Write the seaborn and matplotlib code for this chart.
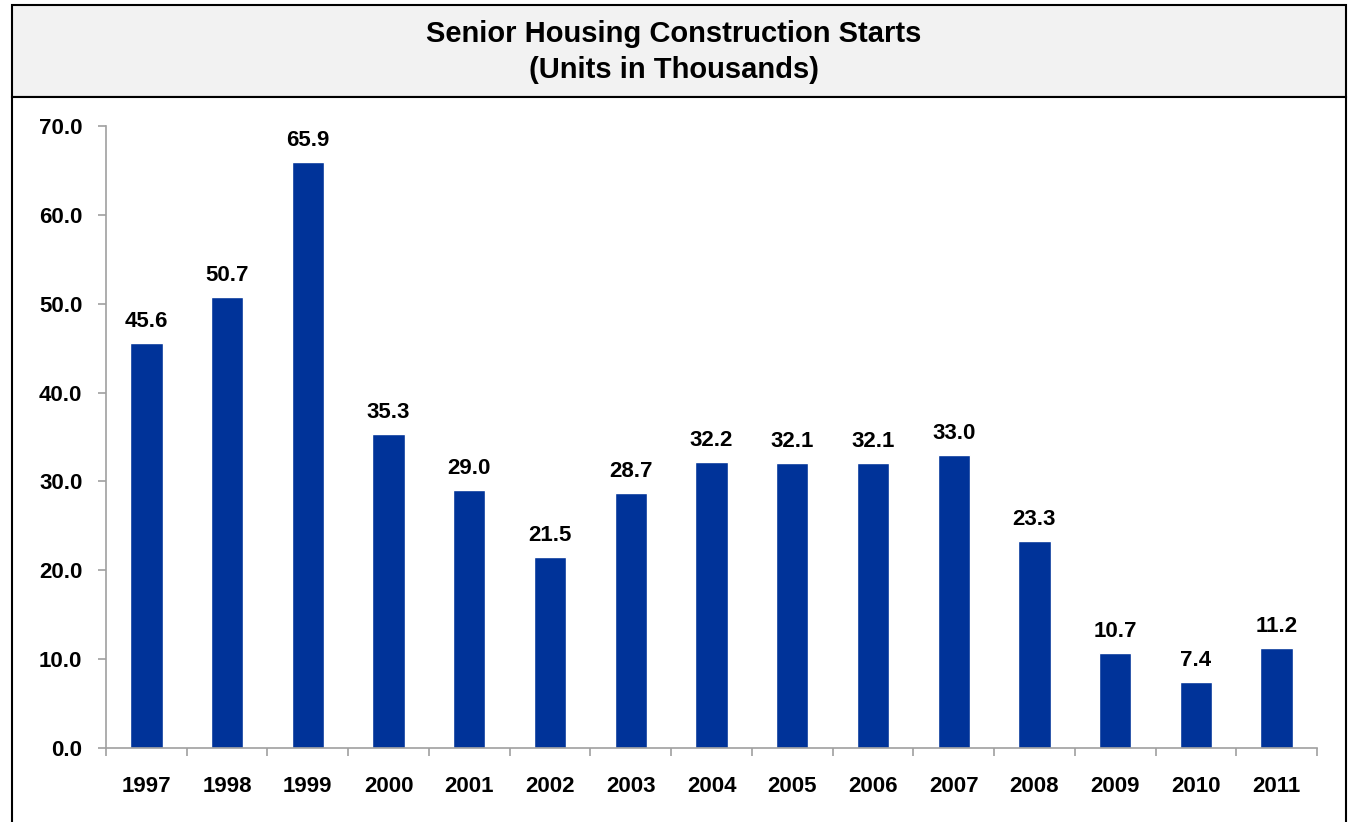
import numpy as np
import pandas as pd
import matplotlib
matplotlib.use("Agg")
import matplotlib.pyplot as plt
import seaborn as sns
from matplotlib.patches import Rectangle

# data
years = ['1997', '1998', '1999', '2000', '2001', '2002', '2003', '2004',
         '2005', '2006', '2007', '2008', '2009', '2010', '2011']
starts = [45.6, 50.7, 65.9, 35.3, 29.0, 21.5, 28.7, 32.2,
          32.1, 32.1, 33.0, 23.3, 10.7, 7.4, 11.2]

df = pd.DataFrame({'year': years, 'starts': starts})

sns.set_style('white')
plt.rcParams['font.family'] = ['Liberation Sans', 'DejaVu Sans']
plt.rcParams['text.color'] = 'black'
plt.rcParams['xtick.color'] = 'black'
plt.rcParams['ytick.color'] = 'black'

W, H = 1348, 822
fig = plt.figure(figsize=(W / 100, H / 100), dpi=100)

# outer frame and title box
fig.patches.append(Rectangle((12 / W, 1 - 97 / H), (1346 - 12) / W, 92 / H,
                             transform=fig.transFigure, facecolor='#F2F2F2',
                             edgecolor='black', linewidth=1.5, zorder=-5))
fig.patches.append(Rectangle((12 / W, -0.01), (1346 - 12) / W, 1 - 97 / H + 0.01,
                             transform=fig.transFigure, facecolor='white',
                             edgecolor='black', linewidth=1.5, zorder=-5))
fig.text(0.5, 1 - 52 / H, 'Senior Housing Construction Starts\n(Units in Thousands)',
         ha='center', va='center', fontsize=21, fontweight='bold', linespacing=1.35)

ax = fig.add_axes([106 / W, 1 - 748 / H, (1317 - 106) / W, (748 - 126) / H])
ax.patch.set_alpha(0)
sns.barplot(data=df, x='year', y='starts', color='#003399', width=0.4,
            saturation=1, ax=ax)

ax.set_ylim(0, 70)
ax.set_xlim(-0.5, len(years) - 0.5)
ax.set_yticks(np.arange(0, 71, 10))
ax.set_yticklabels([f'{v:.1f}' for v in np.arange(0, 71, 10)])
ax.set_xlabel('')
ax.set_ylabel('')

for s in ['top', 'right']:
    ax.spines[s].set_visible(False)
for s in ['left', 'bottom']:
    ax.spines[s].set_color('#A0A0A0')
    ax.spines[s].set_linewidth(1.2)

# x ticks sit between the categories
ax.set_xticks(np.arange(-0.5, len(years), 1), minor=False)
ax.set_xticklabels([''] * (len(years) + 1))
ax.set_xticks(np.arange(len(years)), minor=True)
ax.set_xticklabels(years, minor=True)
ax.tick_params(axis='x', which='major', direction='out', length=6,
               color='#A0A0A0', width=1.2, bottom=True)
ax.tick_params(axis='x', which='minor', length=0, pad=20, labelsize=16)
ax.tick_params(axis='y', direction='out', length=6, color='#A0A0A0',
               width=1.2, left=True, labelsize=16, pad=11)
for lab in ax.get_xticklabels(minor=True) + ax.get_yticklabels():
    lab.set_fontweight('bold')

for i, v in enumerate(starts):
    ax.annotate(f'{v:.1f}', (i, v), xytext=(0, 8), textcoords='offset points',
                ha='center', va='bottom', fontsize=16, fontweight='bold')

fig.savefig('out.png', dpi=100)
